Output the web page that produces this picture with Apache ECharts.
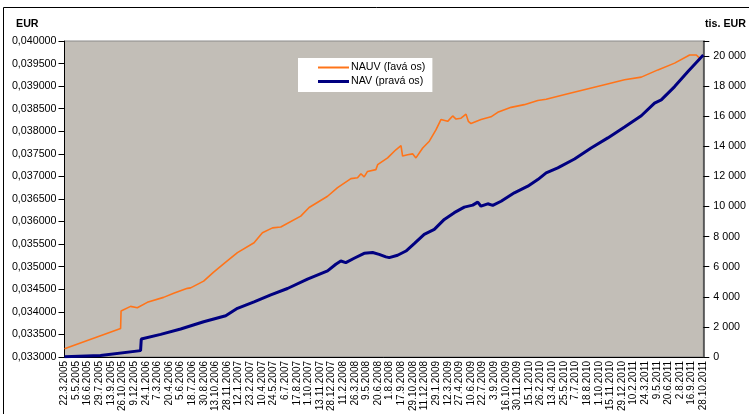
<!DOCTYPE html>
<html>
<head>
<meta charset="utf-8">
<script src="https://cdn.jsdelivr.net/npm/echarts@6/dist/echarts.min.js"></script>
<style>
html,body{margin:0;padding:0;background:#fff;}
#c{width:749px;height:414px;}
</style>
</head>
<body>
<div id="c"></div>
<script>
// Category tick labels (dates) on the x axis
const dateLabels = ['22.3.2005','5.5.2005','16.6.2005','29.7.2005','13.9.2005','26.10.2005','9.12.2005','24.1.2006','7.3.2006','20.4.2006','5.6.2006','18.7.2006','30.8.2006','13.10.2006','28.11.2006','12.1.2007','23.2.2007','10.4.2007','24.5.2007','6.7.2007','17.8.2007','1.10.2007','13.11.2007','28.12.2007','11.2.2008','26.3.2008','9.5.2008','20.6.2008','1.8.2008','17.9.2008','29.10.2008','11.12.2008','29.1.2009','12.3.2009','27.4.2009','10.6.2009','22.7.2009','3.9.2009','16.10.2009','30.11.2009','15.1.2010','26.2.2010','13.4.2010','25.5.2010','7.7.2010','18.8.2010','1.10.2010','15.11.2010','29.12.2010','10.2.2011','24.3.2011','9.5.2011','20.6.2011','2.8.2011','16.9.2011','28.10.2011'];

// NAUV (left axis, EUR) — position along date-label index, value
const nauvX = [0,4.83,4.87,5.69,6.27,7.13,8.53,9.40,10.58,10.86,11.98,12.84,13.88,14.89,16.32,17.04,17.91,18.62,20.34,21.06,22.65,23.51,24.66,25.23,25.52,25.80,26.09,26.81,26.96,27.47,27.82,28.53,28.97,29.11,29.54,29.97,30.26,30.84,31.41,31.98,32.41,32.99,33.42,33.71,34.14,34.57,34.77,35.00,35.86,36.72,37.30,38.45,39.59,40.75,41.47,43.34,46.49,48.22,49.66,51.09,52.53,53.82,54.40,54.68,55];
const nauvY = [0.03318,0.03363,0.03402,0.03412,0.03409,0.03421,0.03432,0.03441,0.03452,0.03453,0.03468,0.03488,0.03510,0.03531,0.03553,0.03575,0.03586,0.03588,0.03612,0.03631,0.03656,0.03675,0.03695,0.03697,0.03706,0.03699,0.03711,0.03715,0.03726,0.03735,0.03741,0.03759,0.03768,0.03745,0.03748,0.03750,0.03741,0.03763,0.03778,0.03803,0.03826,0.03822,0.03834,0.03827,0.03829,0.03838,0.03822,0.03817,0.03826,0.03832,0.03842,0.03853,0.03859,0.03868,0.03871,0.03883,0.03903,0.03914,0.03920,0.03936,0.03951,0.03969,0.03969,0.03962,0.03969];

// NAV (right axis, tis. EUR)
const navX = [0,3.10,6.55,6.61,8.28,10.00,11.98,13.88,14.89,16.32,17.76,19.20,20.92,22.65,23.36,23.79,24.22,24.94,25.80,26.53,27.09,27.67,27.96,28.68,29.40,30.11,30.97,31.84,32.70,33.56,34.42,35.15,35.58,35.86,36.44,36.87,37.59,38.73,39.89,40.75,41.47,42.47,43.91,45.34,46.78,48.22,49.66,50.80,51.38,52.53,53.68,55];
const navY = [20,90,420,1190,1500,1860,2340,2740,3230,3660,4130,4550,5170,5720,6160,6380,6270,6560,6890,6940,6820,6650,6600,6760,7040,7530,8150,8480,9140,9590,9960,10090,10290,10020,10180,10070,10350,10910,11350,11790,12240,12570,13160,13890,14560,15280,16030,16870,17090,17970,18970,20070];

const seriesNames = ['NAUV (ľavá os)', 'NAV (pravá os)'];

const FONT = 'Liberation Sans, Arial, sans-serif';
const chart = echarts.init(document.getElementById('c'), null, {renderer: 'canvas'});

function pairs(xs, ys) { return xs.map((x, i) => [x, ys[i]]); }

chart.setOption({
  animation: false,
  backgroundColor: '#ffffff',
  textStyle: {fontFamily: FONT},
  graphic: [
    {type: 'rect', shape: {x: 3.5, y: 7.5, width: 760, height: 420}, style: {fill: 'none', stroke: '#000', lineWidth: 1}, silent: true, z: -10},
    {type: 'text', left: 16, top: 19, style: {text: 'EUR', font: 'bold 10.7px ' + FONT, fill: '#000'}},
    {type: 'text', right: 3, top: 19, style: {text: 'tis. EUR', font: 'bold 10.7px ' + FONT, fill: '#000', align: 'right'}}
  ],
  grid: {
    left: 64.5, right: 45, top: 41, bottom: 56,
    show: true, backgroundColor: '#C2BEB7', borderColor: '#8a8a8a', borderWidth: 1,
    containLabel: false
  },
  legend: {
    left: 298, top: 58,
    orient: 'vertical',
    backgroundColor: '#ffffff',
    padding: [4, 7, 5, 20],
    itemWidth: 31, itemHeight: 14, itemGap: 3,
    symbolKeepAspect: true,
    textStyle: {fontSize: 10.7, color: '#000', fontFamily: FONT, padding: [0, 0, 0, -3]},
    data: [
      {name: seriesNames[0], icon: 'path://M0,0H31V2H0Z'},
      {name: seriesNames[1], icon: 'path://M0,0H31V3H0Z'}
    ]
  },
  xAxis: {
    type: 'value', min: 0, max: 55, interval: 1,
    axisLine: {show: true, lineStyle: {color: '#000', width: 1}},
    axisTick: {show: false},
    splitLine: {show: false},
    axisLabel: {
      rotate: 90, fontSize: 10, color: '#000', margin: 4, fontFamily: FONT,
      formatter: v => dateLabels[Math.round(v)] || ''
    }
  },
  yAxis: [
    {
      type: 'value', min: 0.033, max: 0.040, interval: 0.0005, position: 'left',
      axisLine: {show: true, lineStyle: {color: '#000', width: 1}},
      axisTick: {show: true, length: 6, lineStyle: {color: '#000'}},
      splitLine: {show: false},
      axisLabel: {fontSize: 10.7, color: '#000', margin: 8, fontFamily: FONT,
        formatter: v => v.toFixed(6).replace('.', ',')}
    },
    {
      type: 'value', min: 0, max: 21000, interval: 2000, position: 'right',
      axisLine: {show: true, lineStyle: {color: '#404040', width: 1.5}},
      axisTick: {show: true, length: 6, lineStyle: {color: '#000'}},
      splitLine: {show: false},
      axisLabel: {fontSize: 10.7, color: '#000', margin: 10, fontFamily: FONT,
        formatter: v => v > 20000 ? '' : String(v).replace(/\B(?=(\d{3})+(?!\d))/g, ' ')}
    }
  ],
  series: [
    {
      name: seriesNames[0], type: 'line', yAxisIndex: 0, symbol: 'none', smooth: false,
      lineStyle: {color: '#FF7419', width: 1.6}, itemStyle: {color: '#FF7419'},
      data: pairs(nauvX, nauvY), z: 2
    },
    {
      name: seriesNames[1], type: 'line', yAxisIndex: 1, symbol: 'none', smooth: false,
      lineStyle: {color: '#000080', width: 3}, itemStyle: {color: '#000080'},
      data: pairs(navX, navY), z: 3
    }
  ]
});
</script>
</body>
</html>
